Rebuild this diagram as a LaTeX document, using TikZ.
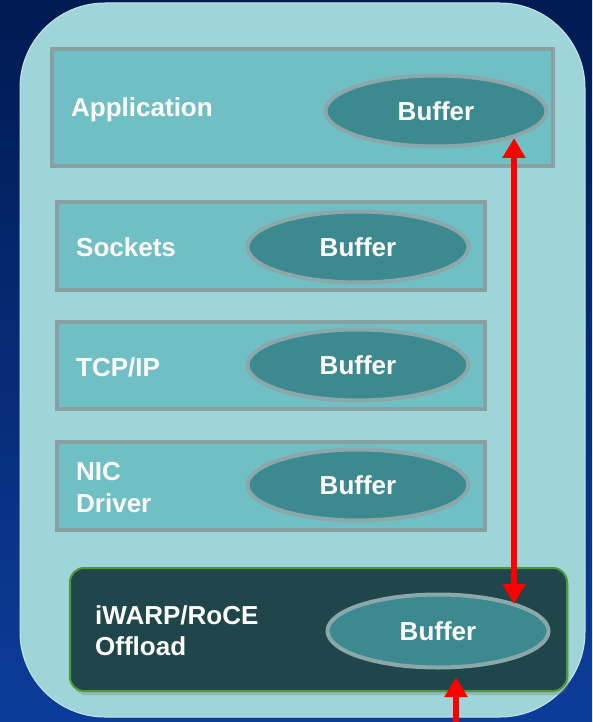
\documentclass[tikz,border=0pt]{standalone}
\usepackage{fontspec}
\setmainfont{Liberation Sans}
\usetikzlibrary{shapes.geometric,arrows.meta,shadows}
\definecolor{bgtop}{HTML}{001A52}
\definecolor{bgbot}{HTML}{0C3C9A}
\definecolor{outerfill}{HTML}{9FD4D8}
\definecolor{outerline}{HTML}{C4E6E8}
\definecolor{layerfill}{HTML}{70BFC5}
\definecolor{layerborder}{HTML}{87A1A2}
\definecolor{buffill}{HTML}{3C8A90}
\definecolor{bufborder}{HTML}{8AA8AA}
\definecolor{offfill}{HTML}{1F464A}
\definecolor{offborder}{HTML}{4C9A34}
\definecolor{arrred}{HTML}{FF0000}
\tikzset{
  layer/.style={draw=layerborder, fill=layerfill, line width=4pt, inner sep=0pt},
  offloadbox/.style={draw=offborder, fill=offfill, line width=2pt, rounded corners=14pt, inner sep=0pt,
    drop shadow={opacity=0.35, shadow xshift=2pt, shadow yshift=-4pt}},
  buf/.style={ellipse, draw=bufborder, fill=buffill, line width=4pt, inner sep=0pt,
    minimum width=221pt, minimum height=71pt, text=white, font=\bfseries\fontsize{26}{31}\selectfont},
  lbl/.style={anchor=base west, inner sep=0pt, text=white, font=\bfseries\fontsize{26}{31}\selectfont},
  redarrow/.style={draw=arrred, line width=6pt, arrows={-Triangle[width=22pt,length=20pt]}},
  redarrowboth/.style={draw=arrred, line width=6pt, arrows={Triangle[width=22pt,length=20pt]-Triangle[width=22pt,length=20pt]}}
}
\begin{document}
\begin{tikzpicture}[x=1pt,y=-1pt]
\useasboundingbox (0,0) rectangle (592,722);
\shade[top color=bgtop, bottom color=bgbot] (0,0) rectangle (592,722);
\draw[outerline, fill=outerfill, line width=1pt, rounded corners=85pt] (20,3) rectangle (585,717);

% layers
\node[layer, minimum width=501pt, minimum height=117pt] (app) at (302.5,107.5) {};
\node[layer, minimum width=428pt, minimum height=88pt] (sock) at (271,246) {};
\node[layer, minimum width=428pt, minimum height=87pt] (tcp) at (271,365.5) {};
\node[layer, minimum width=428pt, minimum height=88pt] (nic) at (271,486) {};
\node[offloadbox, minimum width=497pt, minimum height=123pt] (off) at (318.5,629.5) {};

% buffers
\node[buf] (appbuf) at (436,111) {Buffer};
\node[buf] (sockbuf) at (358,247) {Buffer};
\node[buf] (tcpbuf) at (358,365) {Buffer};
\node[buf] (nicbuf) at (358,485) {Buffer};
\node[buf, minimum height=73pt] (offbuf) at (438,631) {Buffer};

% labels
\node[lbl] (applbl) at (71,117) {Application};
\node[lbl] (socklbl) at (76,256) {Sockets};
\node[lbl] (tcplbl) at (76,376) {TCP/IP};
\node[lbl] (niclbl1) at (76,480) {NIC};
\node[lbl] (niclbl2) at (76,512) {Driver};
\node[lbl] (offlbl1) at (95,624) {iWARP/RoCE};
\node[lbl] (offlbl2) at (95,655) {Offload};

% arrows
\coordinate (topend) at (514,138);
\coordinate (botend) at (514,604);
\draw[redarrowboth] (topend) -- (botend);
\coordinate (src) at (456,726);
\coordinate (dst) at (456,677);
\draw[redarrow] (src) -- (dst);
\end{tikzpicture}
\end{document}
